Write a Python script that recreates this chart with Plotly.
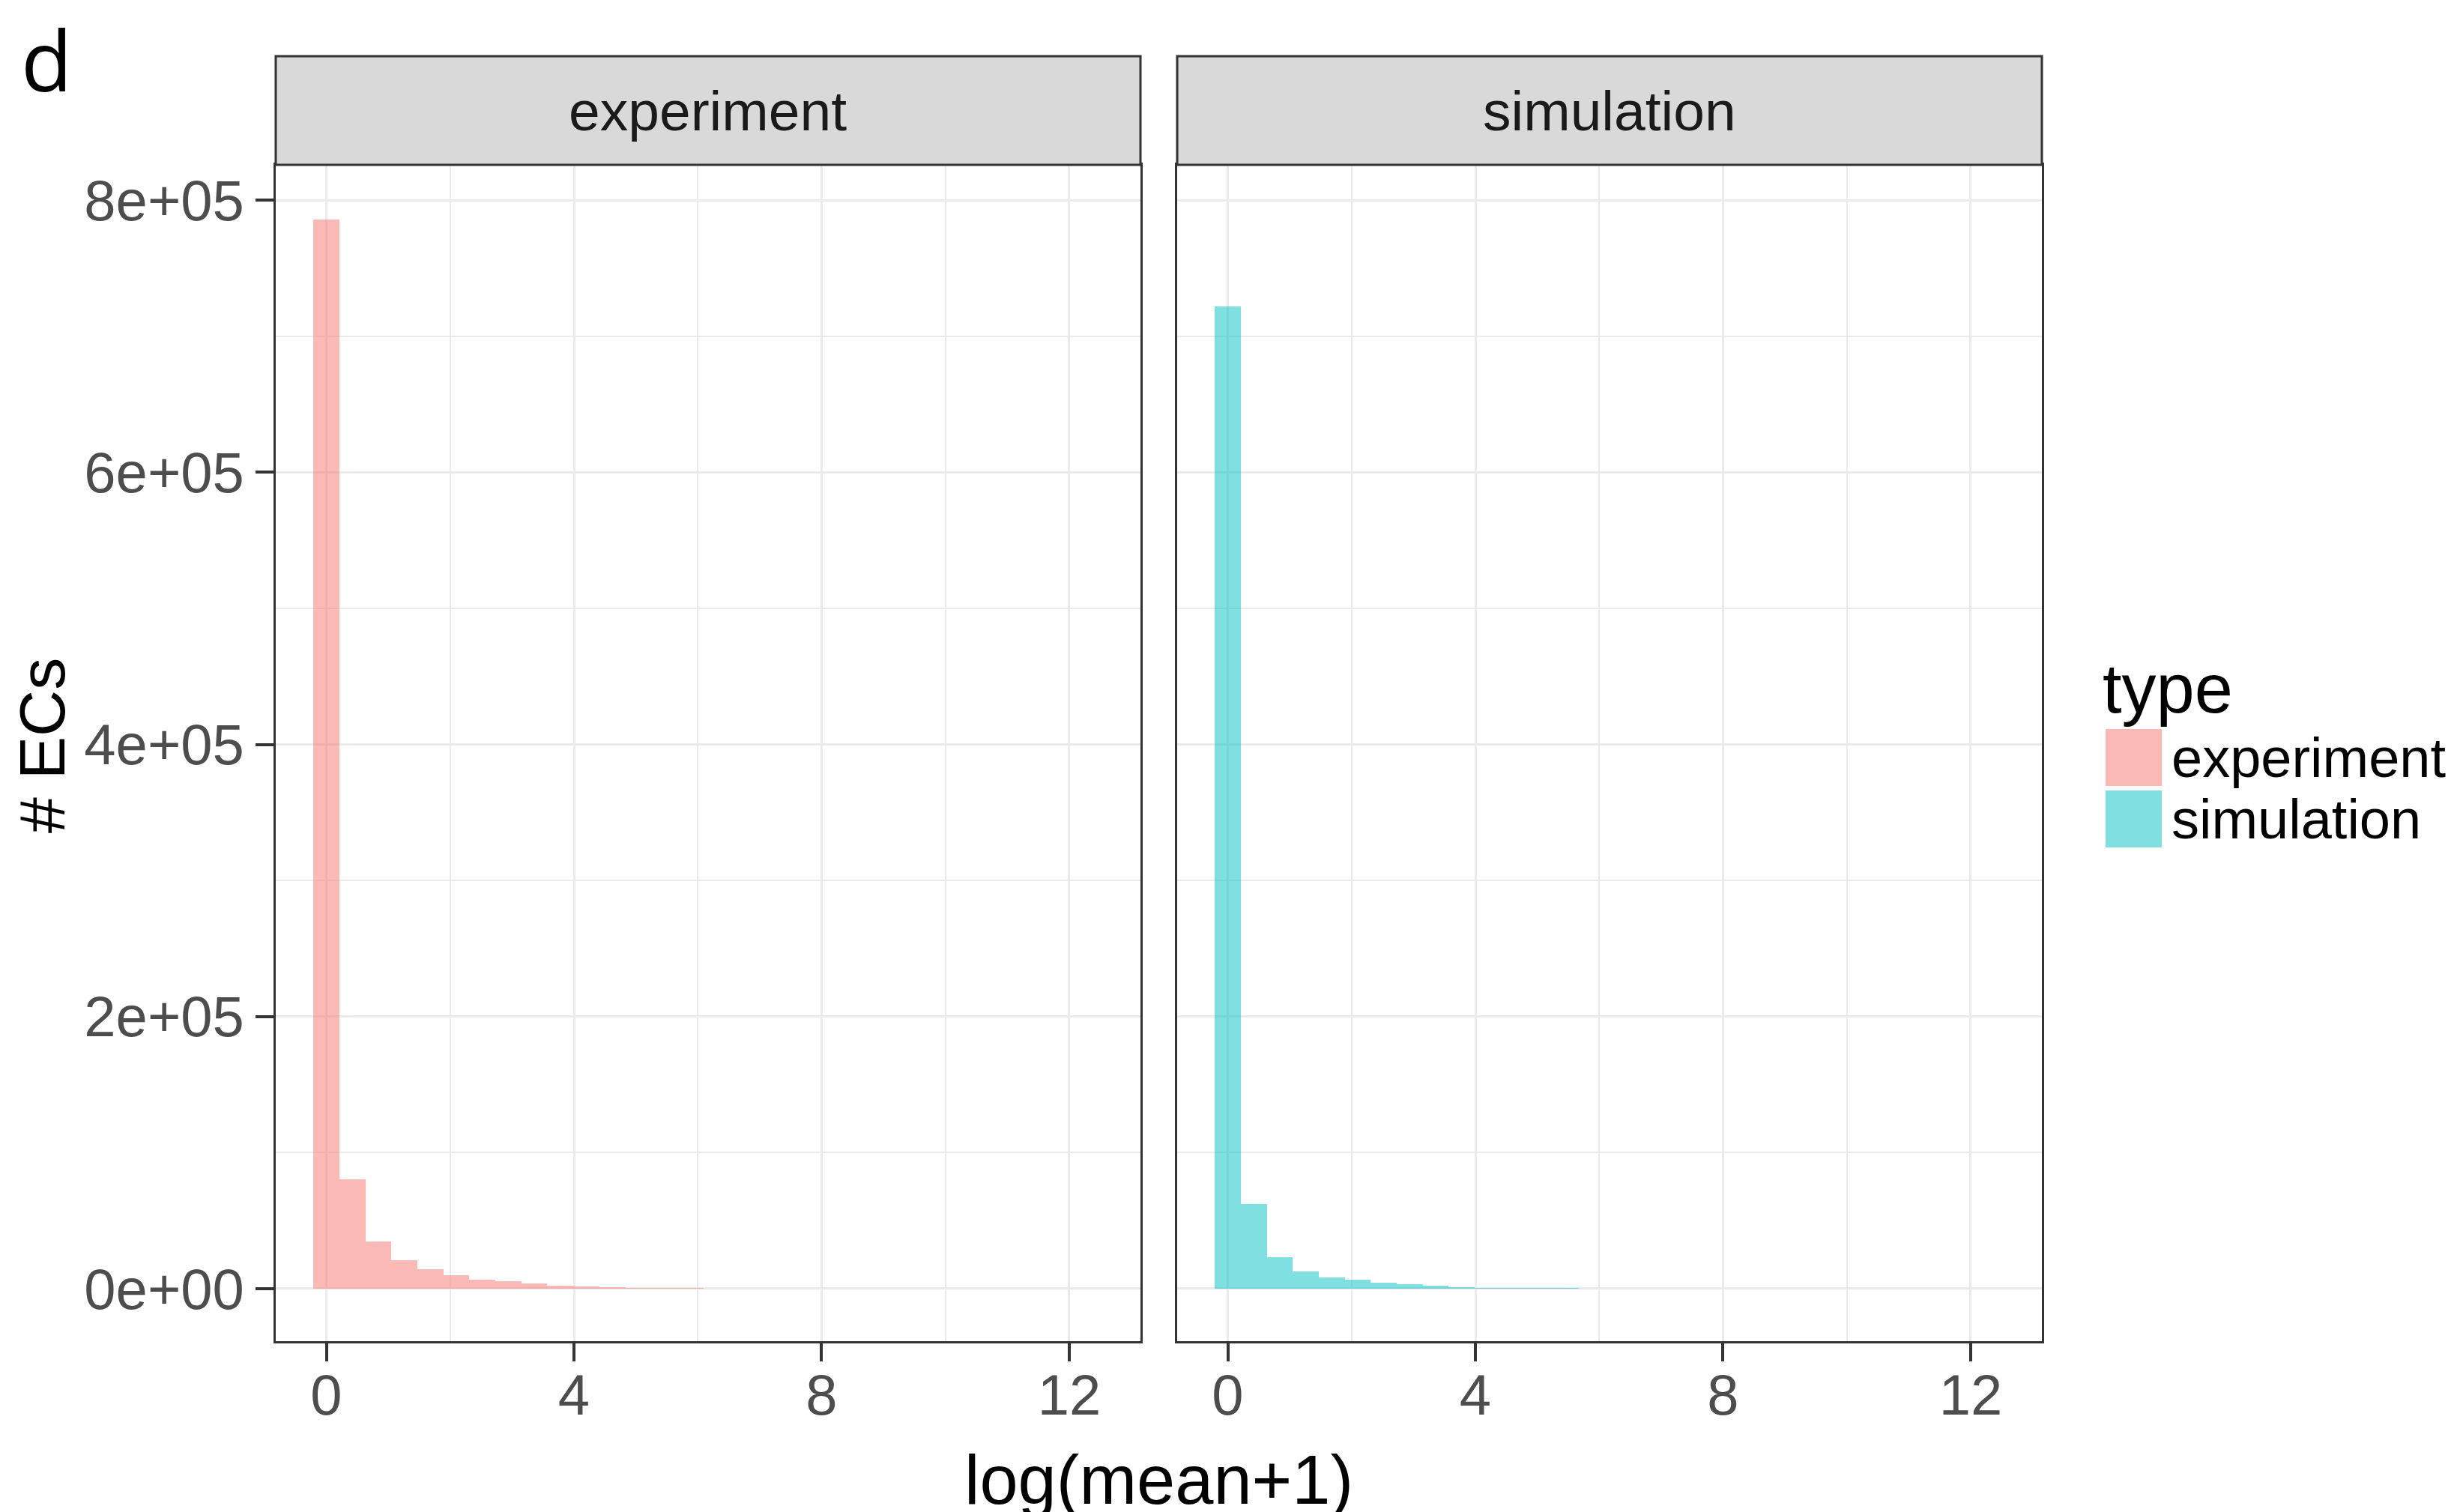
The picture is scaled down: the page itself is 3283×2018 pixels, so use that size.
import plotly.graph_objects as go

W, H = 3283, 2018

# ---------------- data ----------------
bin_width = 0.42
bin_centers = [0.00, 0.42, 0.84, 1.26, 1.68, 2.10, 2.52, 2.94, 3.36, 3.78,
               4.20, 4.62, 5.04, 5.46, 5.88, 6.30, 6.72, 7.14, 7.56, 7.98,
               8.40, 8.82, 9.24, 9.66, 10.08, 10.50, 10.92, 11.34, 11.76, 12.18]
experiment_counts = [786000, 80300, 34500, 21100, 14300, 9700, 6800, 5300, 3900, 2400,
                     1800, 900, 700, 500, 400, 150, 100, 80, 60, 40,
                     30, 20, 15, 10, 8, 5, 3, 2, 1, 1]
simulation_counts = [722000, 62400, 23000, 12500, 8400, 6400, 4200, 3500, 2200, 900,
                     700, 700, 400, 400, 150, 100, 70, 50, 30, 20,
                     15, 10, 8, 5, 4, 3, 2, 1, 1, 1]
panels = ["experiment", "simulation"]
x_tickvals = [0, 4, 8, 12]
x_ticktext = ["0", "4", "8", "12"]
y_tickvals = [0, 200000, 400000, 600000, 800000]
y_ticktext = ["0e+00", "2e+05", "4e+05", "6e+05", "8e+05"]
fills = {"experiment": "rgba(248,118,109,0.5)", "simulation": "rgba(0,191,196,0.5)"}

# ---------------- layout geometry (pixels) ----------------
p1 = (368, 1522)
p2 = (1571, 2725)
ptop, pbot = 220, 1790
strip_top = 75

def fx(px):
    return px / W

def fy(py):
    return 1 - py / H

FONT = "Liberation Sans, Arial, Helvetica, sans-serif"
GRID = "#EBEBEB"
DARK = "#333333"
TICKFONT = dict(family=FONT, size=76, color="#4D4D4D")

fig = go.Figure()
fig.add_trace(go.Bar(x=bin_centers, y=experiment_counts, width=bin_width,
                     marker=dict(color=fills["experiment"], line=dict(width=0)),
                     xaxis="x", yaxis="y", showlegend=False, name="experiment"))
fig.add_trace(go.Bar(x=bin_centers, y=simulation_counts, width=bin_width,
                     marker=dict(color=fills["simulation"], line=dict(width=0)),
                     xaxis="x2", yaxis="y2", showlegend=False, name="simulation"))

xrange = [-0.817, 13.15]
yrange = [-38600, 826000]

def xaxis(dom, anchor):
    return dict(domain=[fx(dom[0]), fx(dom[1])], anchor=anchor, range=xrange,
                tickmode="array", tickvals=x_tickvals, ticktext=x_ticktext,
                showgrid=True, gridcolor=GRID, gridwidth=3,
                minor=dict(tickmode="array", tickvals=[2, 6, 10], showgrid=True,
                           gridcolor=GRID, gridwidth=2, ticks=""),
                zeroline=False, showline=True, mirror=True, linecolor=DARK, linewidth=3,
                ticks="outside", ticklen=24, tickwidth=4, tickcolor=DARK,
                ticklabelstandoff=-20,
                tickfont=TICKFONT)

def yaxis(anchor, labels):
    return dict(domain=[fy(pbot), fy(ptop)], anchor=anchor, range=yrange,
                tickmode="array", tickvals=y_tickvals, ticktext=y_ticktext,
                showticklabels=labels,
                showgrid=True, gridcolor=GRID, gridwidth=3,
                minor=dict(tickmode="array", tickvals=[100000, 300000, 500000, 700000],
                           showgrid=True, gridcolor=GRID, gridwidth=2, ticks=""),
                zeroline=False, showline=True, mirror=True, linecolor=DARK, linewidth=3,
                ticks="outside" if labels else "", ticklen=24, tickwidth=4, tickcolor=DARK,
                tickfont=TICKFONT)

shapes = []
annotations = []
for name, (a, b) in zip(panels, [p1, p2]):
    shapes.append(dict(type="rect", xref="paper", yref="paper",
                       x0=fx(a), x1=fx(b), y0=fy(ptop), y1=fy(strip_top),
                       fillcolor="#D9D9D9", line=dict(color=DARK, width=3), layer="above"))
    annotations.append(dict(text=name, xref="paper", yref="paper",
                            x=fx((a + b) / 2), y=fy((ptop + strip_top) / 2),
                            xanchor="center", yanchor="middle", showarrow=False,
                            font=dict(family=FONT, size=75, color="#1A1A1A")))

# axis titles
annotations.append(dict(text="log(mean+1)", xref="paper", yref="paper",
                        x=fx((p1[0] + p2[1]) / 2), y=fy(1975), xanchor="center", yanchor="middle",
                        showarrow=False, font=dict(family=FONT, size=92, color="black")))
annotations.append(dict(text="# ECs", xref="paper", yref="paper",
                        x=fx(56), y=fy(995), xanchor="center", yanchor="middle",
                        textangle=-90, showarrow=False,
                        font=dict(family=FONT, size=86, color="black")))
# panel tag
annotations.append(dict(text="d", xref="paper", yref="paper",
                        x=fx(26), y=1, xanchor="left", yanchor="top",
                        showarrow=False, font=dict(family="Open Sans, sans-serif", size=112, color="black")))

# legend (drawn manually to match ggplot key sizes)
annotations.append(dict(text="type", xref="paper", yref="paper",
                        x=fx(2804), y=fy(919), xanchor="left", yanchor="middle",
                        showarrow=False, font=dict(family=FONT, size=92, color="black")))
key_rows = [(973, 1049), (1055, 1131)]
for name, (k0, k1) in zip(panels, key_rows):
    shapes.append(dict(type="rect", xref="paper", yref="paper",
                       x0=fx(2810), x1=fx(2885), y0=fy(k1), y1=fy(k0),
                       fillcolor=fills[name], line=dict(width=0)))
    annotations.append(dict(text=name, xref="paper", yref="paper",
                            x=fx(2896), y=fy((k0 + k1) / 2), xanchor="left", yanchor="middle",
                            showarrow=False, font=dict(family=FONT, size=74, color="black")))

fig.update_layout(
    width=W, height=H, autosize=False,
    margin=dict(l=0, r=0, t=0, b=0),
    paper_bgcolor="white", plot_bgcolor="white",
    bargap=0, barmode="overlay",
    xaxis=xaxis(p1, "y"), yaxis=yaxis("x", True),
    xaxis2=xaxis(p2, "y2"), yaxis2=yaxis("x2", False),
    shapes=shapes, annotations=annotations,
)

fig.write_html("out.html")
